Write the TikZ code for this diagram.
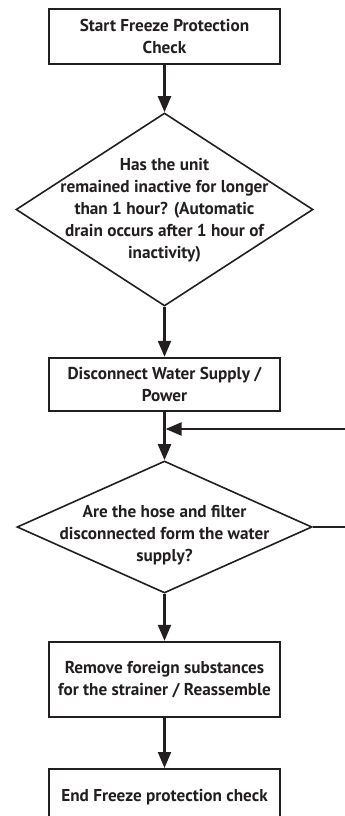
\documentclass[tikz,border=0pt]{standalone}
\usepackage{fontspec}
\setmainfont{PT Sans}
\usetikzlibrary{arrows.meta,shapes.geometric}
\definecolor{ink}{HTML}{231F20}
\begin{document}
\begin{tikzpicture}[x=1pt,y=-1pt,
  every node/.style={font=\bfseries\fontsize{17.2}{22}\selectfont, text=ink},
  stepbox/.style={draw=ink, line width=2.4pt, minimum width=231pt, inner sep=0pt, align=center},
  decision/.style={draw=ink, line width=1.6pt, diamond, inner sep=0pt},
  label/.style={align=center, inner sep=0pt},
  flow/.style={draw=ink, line width=2.2pt, -{Triangle[length=16pt,width=13pt]}},
  plain/.style={draw=ink, line width=2.2pt}]
\useasboundingbox (0,0) rectangle (345,816);
\node[stepbox, minimum height=55pt] (b1) at (164.5,36.5) {Start Freeze Protection\\Check};
\node[decision, minimum width=297pt, minimum height=193pt] (d1) at (164.5,209.5) {};
\node[label] (t1) at (164.5,210.5) {Has the unit\\remained inactive for longer\\than 1 hour? (Automatic\\drain occurs after 1 hour of\\inactivity)};
\node[stepbox, minimum height=53pt] (b2) at (164.5,384.5) {Disconnect Water Supply /\\Power};
\node[decision, minimum width=295pt, minimum height=132pt] (d2) at (164.5,527) {};
\node[label] (t2) at (164.5,535) {Are the hose and filter\\disconnected form the water\\supply?};
\node[stepbox, minimum height=75pt] (b3) at (164.5,679.5) {Remove foreign substances\\for the strainer / Reassemble};
\node[stepbox, minimum height=70pt, anchor=north] (b4) at (164.5,768) {};
\node[label] (t4) at (164.5,797) {End Freeze protection check};
\coordinate (e1) at (346,429);
\coordinate (e2) at (346,527);
\draw[flow] (b1) -- (d1.north);
\draw[flow] (d1.south) -- (b2);
\draw[flow] (b2) -- (d2.north);
\draw[flow] (e1) -- ([xshift=1.1pt]b2.south |- e1);
\draw[plain] (d2.east) -- (e2);
\draw[flow] (d2.south) -- (b3);
\draw[flow] (b3) -- (b4);
\end{tikzpicture}
\end{document}
